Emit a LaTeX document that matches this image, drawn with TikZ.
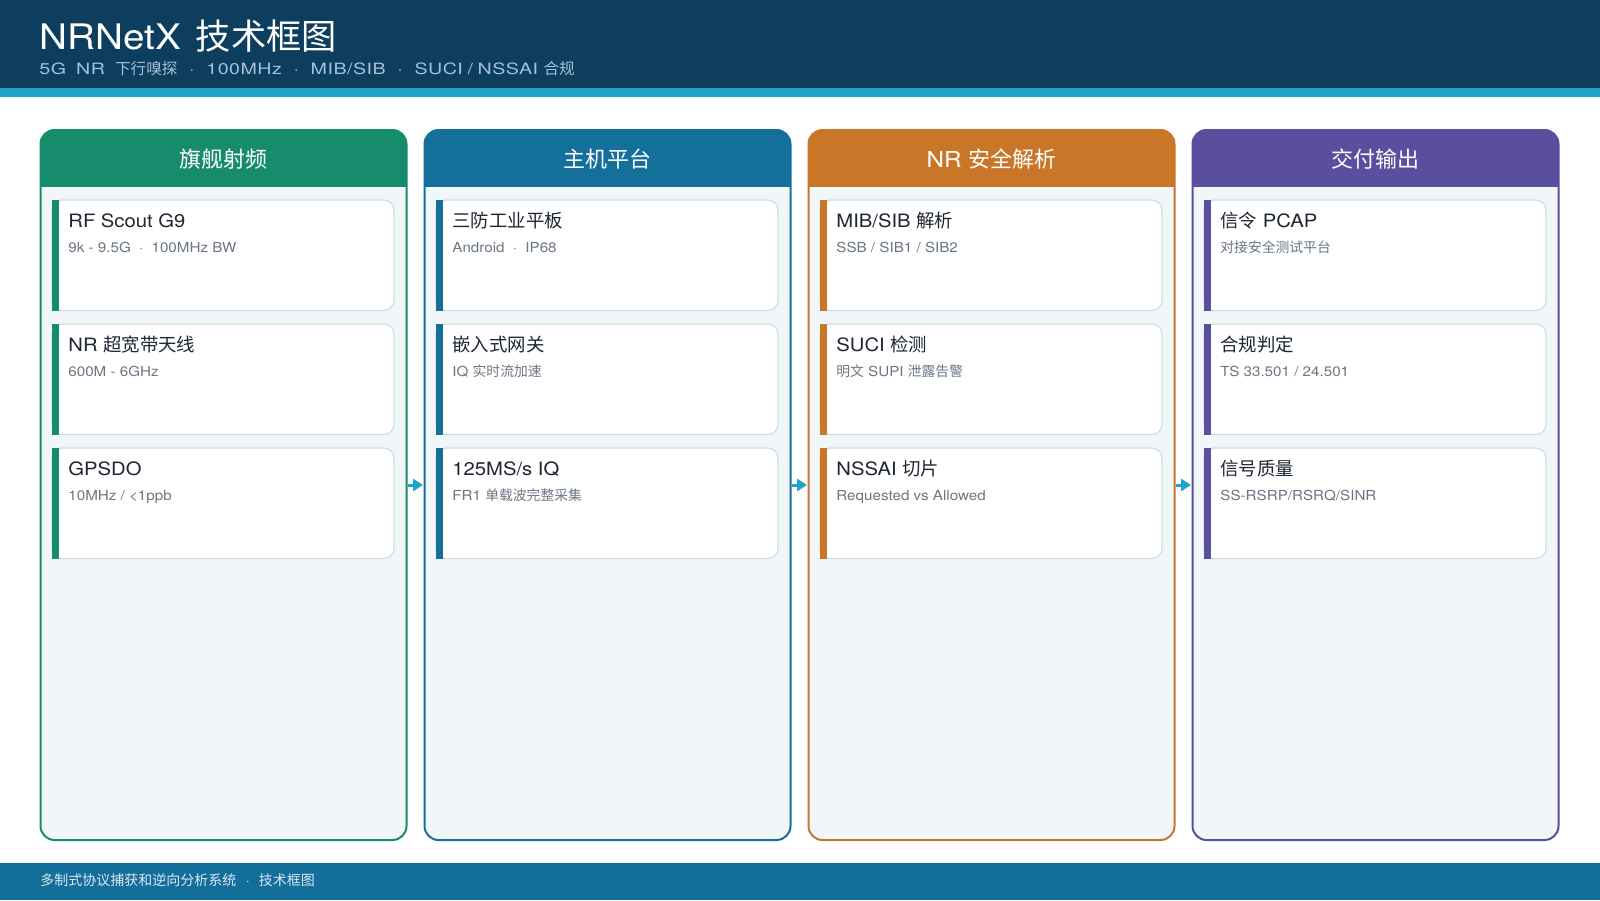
\documentclass[tikz,border=0pt]{standalone}
\usepackage{fontspec}
\setmainfont[FakeStretch=1.1]{TeX Gyre Heros}
\newfontfamily\cjk{Noto Sans CJK SC}
\newfontfamily\subfont[FakeStretch=1.26,LetterSpace=3,WordSpace=1.7]{TeX Gyre Heros}
\usetikzlibrary{arrows.meta}
\definecolor{hdr}{HTML}{0D3E5E}
\definecolor{stripe}{HTML}{22A2C8}
\definecolor{ftr}{HTML}{146E9A}
\definecolor{subhdr}{HTML}{A2C2D8}
\definecolor{ftrtext}{HTML}{D8E8F2}
\definecolor{bodyfill}{HTML}{F1F6F9}
\definecolor{cardline}{HTML}{CFDCE6}
\definecolor{cardtitle}{HTML}{1E2633}
\definecolor{cardsub}{HTML}{6B7684}
\definecolor{cgreen}{HTML}{178C6D}
\definecolor{cblue}{HTML}{156F9B}
\definecolor{corange}{HTML}{C97628}
\definecolor{cpurple}{HTML}{5A4F9E}
\newcommand\sdot[1][0.6em]{\hspace{#1}·\hspace{#1}}
\newcommand\mkcol[4]{%
  \begin{scope}
    \clip[rounded corners=7pt] (#2,130) rectangle ++(366,710);
    \fill[bodyfill] (#2,130) rectangle ++(366,710);
    \fill[#3] (#2,130) rectangle ++(366,57);
  \end{scope}
  \draw[#3, line width=1pt, rounded corners=7pt] (#2,130) rectangle ++(366,710);
  \node[colhead] (#1h) at (#2+183,167) {#4};
}
\newcommand\mkcard[6]{%
  \draw[cardline, line width=0.6pt, fill=white, rounded corners=5pt] (#2+11.5,#3) rectangle (#2+353.5,#3+110.5);
  \fill[#4] (#2+11.5,#3) rectangle ++(7,110.5);
  \node[cardt] (#1t) at (#2+27.5,#3+27.7) {#5};
  \node[cards] (#1s) at (#2+27.5,#3+52.7) {#6};
}
\begin{document}
\begin{tikzpicture}[x=0.5pt,y=-0.5pt,
  colhead/.style={anchor=base, inner sep=0, text=white, font=\fontsize{11}{13}\selectfont},
  cardt/.style={anchor=base west, inner sep=0, text=cardtitle, font=\fontsize{9.2}{11}\selectfont},
  cards/.style={anchor=base west, inner sep=0, text=cardsub, font=\fontsize{6.9}{8}\selectfont},
  flow/.style={stripe, line width=1.5pt, -{Triangle[length=5pt,width=6pt]}}]
\useasboundingbox (0,0) rectangle (1600,900);
\fill[white] (0,0) rectangle (1600,900);
\fill[hdr] (0,0) rectangle (1600,88);
\fill[stripe] (0,88) rectangle (1600,97);
\fill[ftr] (0,863) rectangle (1600,900);
\node[anchor=base west, inner sep=0, text=white, font=\fontsize{17.6}{20}\selectfont] (title) at (39,49) {NRNetX\hspace{0.12em} {\cjk 技术框图}};
\node[anchor=base west, inner sep=0, text=subhdr, font=\subfont\fontsize{7.8}{9}\selectfont] (subtitle) at (39,74) {5G NR {\cjk 下行嗅探}\sdot[0.75em]100MHz\sdot[0.75em]MIB/SIB\sdot[0.75em]SUCI\hspace{0.3em}/\hspace{0.3em}NSSAI\hspace{0.35em}{\cjk 合规}};
\node[anchor=base west, inner sep=0, text=ftrtext, font=\fontsize{7}{9}\selectfont] (footer) at (40,885) {{\cjk 多制式协议捕获和逆向分析系统}\sdot[0.65em]{\cjk 技术框图}};

\mkcol{c1}{40.5}{cgreen}{\cjk 旗舰射频}
\mkcol{c2}{424.5}{cblue}{\cjk 主机平台}
\mkcol{c3}{808.5}{corange}{NR {\cjk 安全解析}}
\mkcol{c4}{1192.5}{cpurple}{\cjk 交付输出}

\mkcard{c1a}{40.5}{200}{cgreen}{RF Scout G9}{9k - 9.5G\sdot 100MHz BW}
\mkcard{c1b}{40.5}{324}{cgreen}{NR {\cjk 超宽带天线}}{600M - 6GHz}
\mkcard{c1c}{40.5}{448}{cgreen}{GPSDO}{10MHz / <1ppb}

\mkcard{c2a}{424.5}{200}{cblue}{{\cjk 三防工业平板}}{Android\sdot IP68}
\mkcard{c2b}{424.5}{324}{cblue}{{\cjk 嵌入式网关}}{IQ {\cjk 实时流加速}}
\mkcard{c2c}{424.5}{448}{cblue}{125MS/s IQ}{FR1 {\cjk 单载波完整采集}}

\mkcard{c3a}{808.5}{200}{corange}{MIB/SIB {\cjk 解析}}{SSB / SIB1 / SIB2}
\mkcard{c3b}{808.5}{324}{corange}{SUCI {\cjk 检测}}{{\cjk 明文} SUPI {\cjk 泄露告警}}
\mkcard{c3c}{808.5}{448}{corange}{NSSAI {\cjk 切片}}{Requested vs Allowed}

\mkcard{c4a}{1192.5}{200}{cpurple}{{\cjk 信令} PCAP}{{\cjk 对接安全测试平台}}
\mkcard{c4b}{1192.5}{324}{cpurple}{{\cjk 合规判定}}{TS 33.501 / 24.501}
\mkcard{c4c}{1192.5}{448}{cpurple}{{\cjk 信号质量}}{SS-RSRP/RSRQ/SINR}

\coordinate (a1s) at (408,485); \coordinate (a1e) at (423,485);
\coordinate (a2s) at (792,485); \coordinate (a2e) at (807,485);
\coordinate (a3s) at (1176,485); \coordinate (a3e) at (1191,485);
\draw[flow] (a1s) -- (a1e);
\draw[flow] (a2s) -- (a2e);
\draw[flow] (a3s) -- (a3e);
\end{tikzpicture}
\end{document}
